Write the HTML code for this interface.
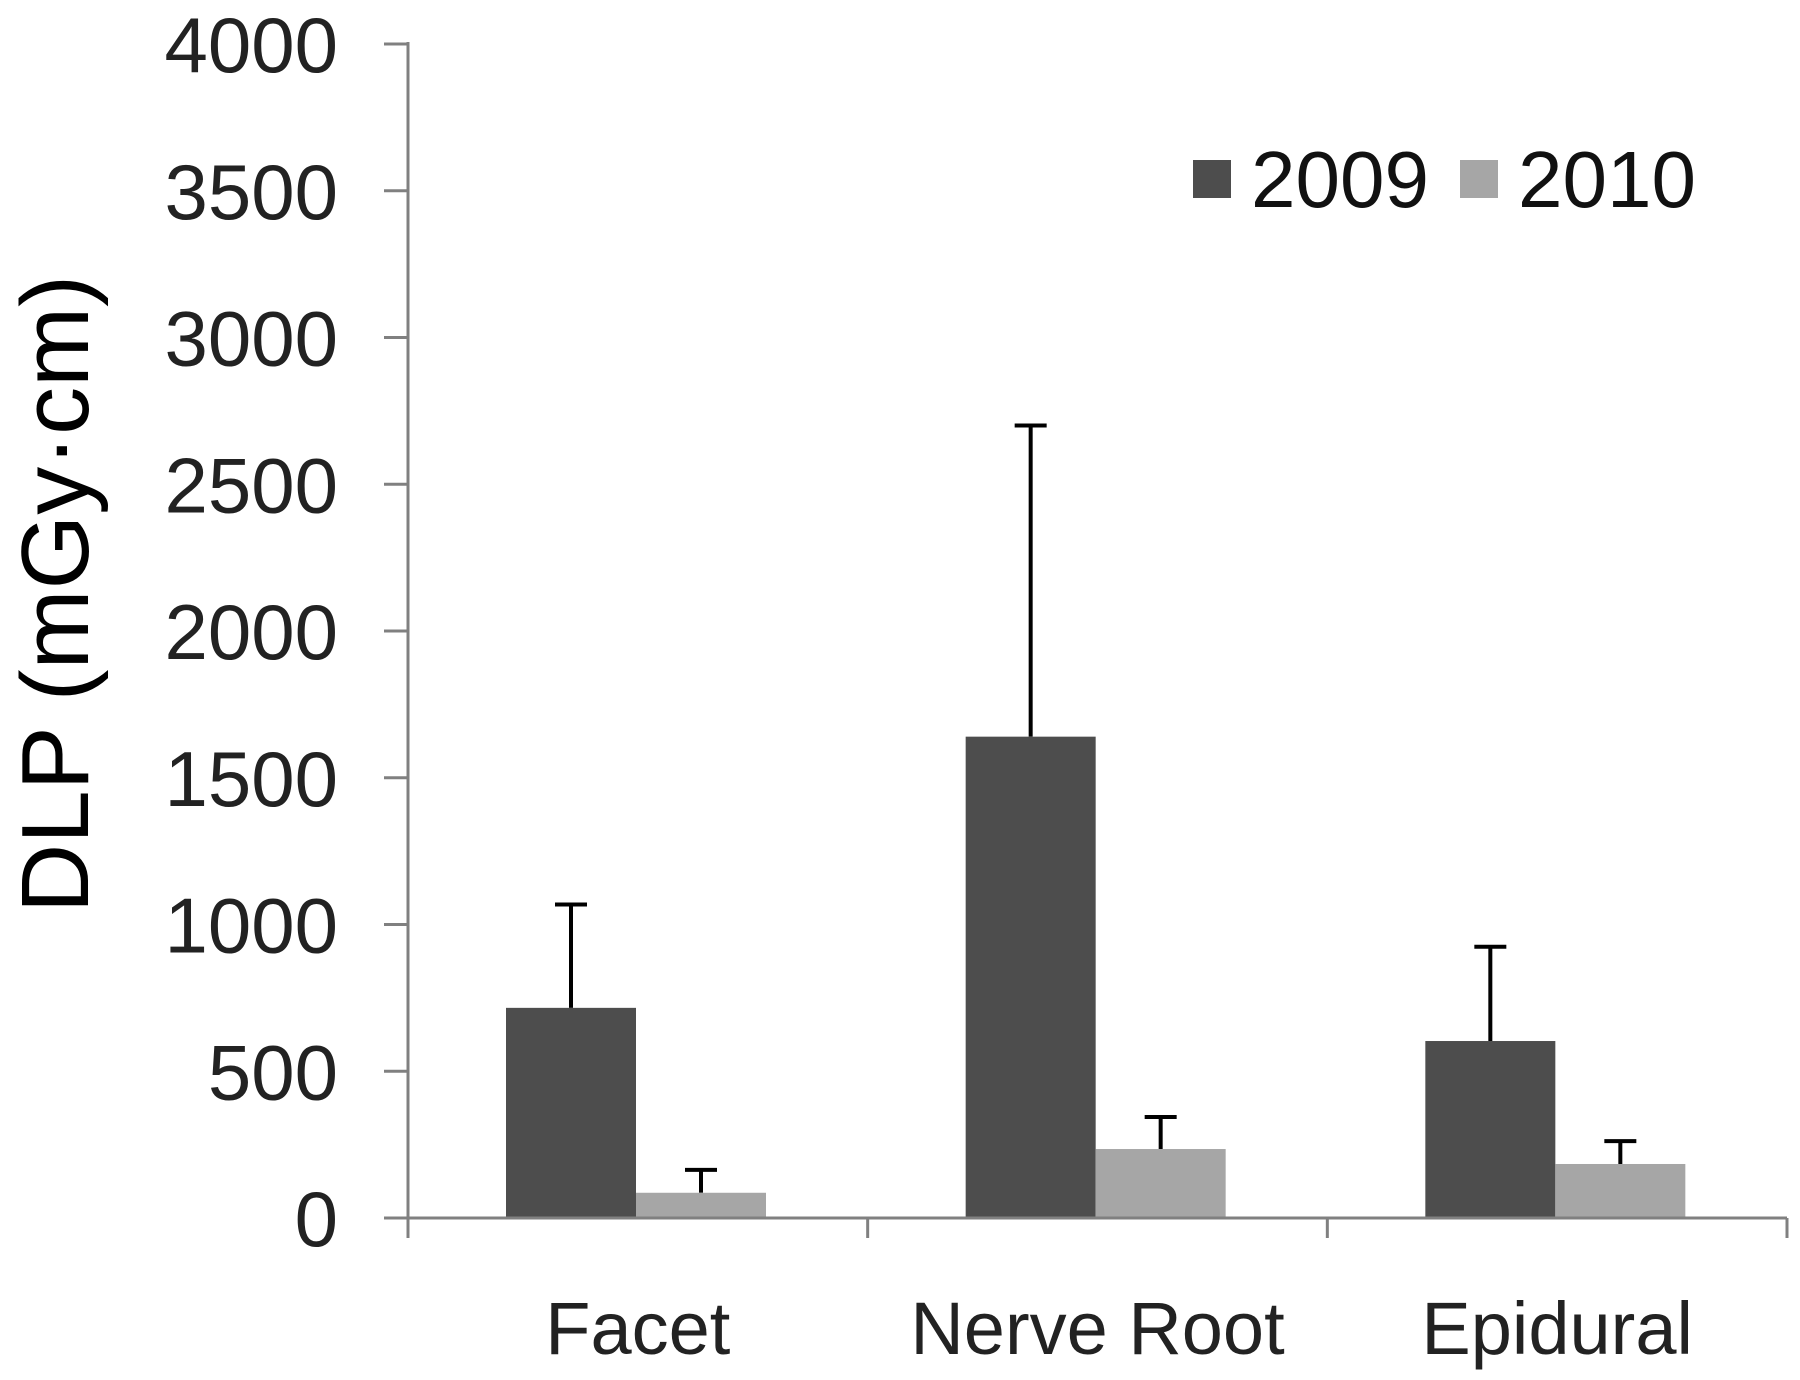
<!DOCTYPE html>
<html><head><meta charset="utf-8"><style>
html,body{margin:0;padding:0;background:#fff;}
svg{display:block;font-family:"Liberation Sans",Arial,sans-serif;}
</style></head><body>
<svg id="chart" width="1800" height="1380" viewBox="0 0 1800 1380" xmlns="http://www.w3.org/2000/svg"></svg>
<script>
const categories = ["Facet", "Nerve Root", "Epidural"];
const series2009 = [716, 1640, 603];
const err2009 = [1068, 2700, 924];
const series2010 = [86, 235, 184];
const err2010 = [164, 344, 262];
const yTicks = [0, 500, 1000, 1500, 2000, 2500, 3000, 3500, 4000];

const NS = "http://www.w3.org/2000/svg";
const svg = document.getElementById("chart");
const X0 = 408, X1 = 1787, Y0 = 1218, Y1 = 44, YMAX = 4000;
const groupW = (X1 - X0) / categories.length;
const barW = 130;
function y(v){ return Y0 - v * (Y0 - Y1) / YMAX; }
function gx(i){ return X0 + i * groupW; }
function el(tag, attrs, parent){
  const e = document.createElementNS(NS, tag);
  for (const k in attrs) e.setAttribute(k, attrs[k]);
  (parent || svg).appendChild(e);
  return e;
}

// y-axis title
const yt = el("text", {x: 0, y: 0, transform: "translate(88,594) rotate(-90)", "text-anchor": "middle", "font-size": 96, fill: "#000"});


yt.textContent = "DLP (mGy\u00b7cm)";

// axes
const ax = el("line", {x1: X0, y1: Y1 - 2, x2: X0, y2: Y0 + 20, stroke: "#808080", "stroke-width": 3});


yTicks.forEach(v => {
  const t = el("line", {x1: X0 - 24, y1: y(v), x2: X0, y2: y(v), stroke: "#808080", "stroke-width": 3});
  
  
  const lb = el("text", {x: 338, y: y(v) + 28, "text-anchor": "end", "font-size": 78, fill: "#222"});
  
  
  lb.textContent = v;
});

// bars
categories.forEach((c, i) => {
  const left = gx(i) + 98;
  const bars = [[series2009[i], err2009[i], "#4d4d4d", left, "bar-2009"], [series2010[i], err2010[i], "#a6a6a6", left + barW, "bar-2010"]];
  bars.forEach(b => {
    const cx = b[3] + barW / 2;
    const eb = el("line", {x1: cx, y1: y(b[0]), x2: cx, y2: y(b[1]), stroke: "#000", "stroke-width": 4});
    
    
    const cap = el("line", {x1: cx - 16, y1: y(b[1]), x2: cx + 16, y2: y(b[1]), stroke: "#000", "stroke-width": 4});
    
    
    const r = el("rect", {x: b[3], y: y(b[0]), width: barW, height: Y0 - y(b[0]), fill: b[2]});
    
    
  });
  const lb = el("text", {x: gx(i) + groupW / 2, y: 1354, "text-anchor": "middle", "font-size": 74, fill: "#222"});
  
  
  lb.textContent = c;
});

const xa = el("line", {x1: X0 - 24, y1: Y0, x2: X1, y2: Y0, stroke: "#808080", "stroke-width": 3});


for (let i = 0; i <= categories.length; i++) {
  const t = el("line", {x1: gx(i), y1: Y0, x2: gx(i), y2: Y0 + 20, stroke: "#808080", "stroke-width": 3});
  
  
}

// legend
const lg = el("g", {});


[["2009", "#4d4d4d", 1193], ["2010", "#a6a6a6", 1460]].forEach(L => {
  const s = el("rect", {x: L[2], y: 160, width: 38, height: 38, fill: L[1]}, lg);
  
  
  const t = el("text", {x: L[2] + 58, y: 207, "font-size": 80, fill: "#111"}, lg);
  
  
  t.textContent = L[0];
});
</script>
</body></html>
